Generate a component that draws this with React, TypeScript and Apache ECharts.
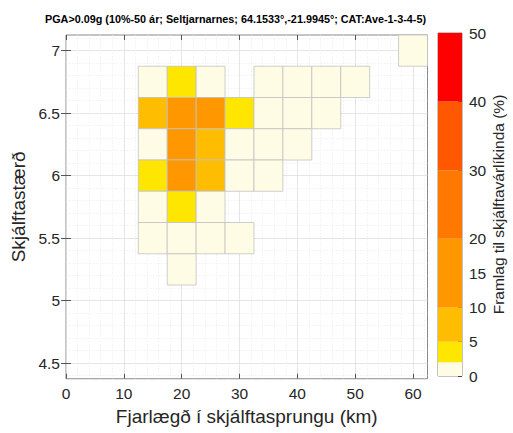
import React, { useEffect, useRef } from "react";
import * as echarts from "echarts";

// ---- data ----
const titleText = "PGA>0.09g (10%-50 ár; Seltjarnarnes; 64.1533°,-21.9945°; CAT:Ave-1-3-4-5)";
const xAxisName = "Fjarlægð í skjálftasprungu (km)";
const yAxisName = "Skjálftastærð";
const colorbarName = "Framlag til skjálftavárlíkinda (%)";

// distance bin centres (km)
const distances = [15, 20, 25, 30, 35, 40, 45, 50, 55, 60];
// magnitude bin centres and contributions (%) per distance bin (null = empty)
const magnitudes = [7.0, 6.75, 6.5, 6.25, 6.0, 5.75, 5.5, 5.25];
const row700 = [null, null, null, null, null, null, null, null, null, 0.5];
const row675 = [1.0, 3.5, 1.2, null, 0.3, 0.4, 0.3, 0.2, null, null];
const row650 = [7.5, 13.0, 12.5, 3.0, 1.0, 0.6, 0.3, null, null, null];
const row625 = [1.5, 14.0, 8.5, 1.2, 0.8, 0.4, null, null, null, null];
const row600 = [4.0, 13.5, 7.0, 1.0, 0.5, null, null, null, null, null];
const row575 = [1.2, 3.2, 1.5, null, null, null, null, null, null, null];
const row550 = [0.6, 1.0, 0.8, 0.3, null, null, null, null, null, null];
const row525 = [null, 0.3, null, null, null, null, null, null, null, null];
const rows = [row700, row675, row650, row625, row600, row575, row550, row525];

const binWidth = 5; // km
const binHeight = 0.25; // magnitude

const xTicks = [0, 10, 20, 30, 40, 50, 60];
const yTicks = [4.5, 5, 5.5, 6, 6.5, 7];

// colour scale
const colorBreaks = [0, 2, 5, 10, 20, 30, 40, 50];
const colorbarTicks = [0, 2, 5, 10, 15, 20, 30, 40, 50];
const colorList = ["#FFFCE6", "#FFE600", "#FFBD00", "#FF9800", "#FF7800", "#FF5800", "#FF0000"];

function colorFor(v: number) {
  for (let i = 0; i < colorBreaks.length - 1; i++) {
    if (v < colorBreaks[i + 1]) return colorList[i];
  }
  return colorList[colorList.length - 1];
}

const FONT = "'Liberation Sans', Arial, Helvetica, sans-serif";

export default function App() {
  const ref = useRef<HTMLDivElement>(null);
  useEffect(() => {
    if (!ref.current) return;
    const chart = echarts.init(ref.current, null, { renderer: "svg" });

    const cells: any[] = [];
    rows.forEach((row, ri) => {
      row.forEach((v, ci) => {
        if (v !== null) cells.push([distances[ci], magnitudes[ri], v]);
      });
    });

    const segments = colorBreaks.slice(1).map((b, i) => b - colorBreaks[i]);

    const option: any = {
      animation: false,
      backgroundColor: "#ffffff",
      textStyle: { fontFamily: FONT },
      title: {
        text: titleText,
        left: 40,
        top: 8,
        textStyle: { fontFamily: FONT, fontSize: 10.8, fontWeight: "bold", color: "#000" },
      },
      grid: [
        {
          left: 66, top: 35, width: 361.5, height: 343.75,
          show: true, borderColor: "#8a8a8a", borderWidth: 1, backgroundColor: "transparent",
          containLabel: false, outerBoundsMode: "none",
        },
        {
          left: 438, top: 33, width: 24, height: 343,
          show: true, borderColor: "#8a8a8a", borderWidth: 1, backgroundColor: "transparent",
          containLabel: false, outerBoundsMode: "none",
        },
      ],
      xAxis: [
        {
          type: "value", gridIndex: 0, min: 0, max: 62.5, interval: 10,
          name: xAxisName, nameLocation: "middle", nameGap: 24,
          nameTextStyle: { fontFamily: FONT, fontSize: 19, color: "#262626" },
          axisLine: { show: false },
          axisTick: { show: true, inside: true, length: 5, customValues: xTicks, lineStyle: { color: "#555" } },
          axisLabel: { customValues: xTicks, margin: 7, fontFamily: FONT, fontSize: 15.5, color: "#262626" },
          splitLine: { show: true, lineStyle: { color: "#dedede", width: 0.8 } },
          minorTick: { show: false, splitNumber: 5 },
          minorSplitLine: { show: true, lineStyle: { color: "#ececec", width: 0.7, type: [1.5, 1.5] } },
        },
        {
          type: "value", gridIndex: 0, min: 0, max: 62.5, interval: 10, position: "top",
          axisLine: { show: false },
          axisTick: { show: true, inside: true, length: 5, customValues: xTicks, lineStyle: { color: "#555" } },
          axisLabel: { show: false },
          splitLine: { show: false },
        },
        {
          type: "category", gridIndex: 1, data: ["cb"], show: false,
        },
      ],
      yAxis: [
        {
          type: "value", gridIndex: 0, min: 4.375, max: 7.125,
          name: yAxisName, nameLocation: "middle", nameGap: 35, nameRotate: 90,
          nameTextStyle: { fontFamily: FONT, fontSize: 19, color: "#262626" },
          axisLine: { show: false },
          axisTick: { show: true, inside: true, length: 5, customValues: yTicks, lineStyle: { color: "#555" } },
          axisLabel: { customValues: yTicks, margin: 6, fontFamily: FONT, fontSize: 15.5, color: "#262626" },
          splitLine: { show: true, lineStyle: { color: "#dedede", width: 0.8 } },
          minorTick: { show: false, splitNumber: 5 },
          minorSplitLine: { show: true, lineStyle: { color: "#ececec", width: 0.7, type: [1.5, 1.5] } },
        },
        {
          type: "value", gridIndex: 0, min: 4.375, max: 7.125, position: "right",
          axisLine: { show: false },
          axisTick: { show: true, inside: true, length: 5, customValues: yTicks, lineStyle: { color: "#555" } },
          axisLabel: { show: false },
          splitLine: { show: false },
        },
        {
          type: "value", gridIndex: 1, min: 0, max: 50, position: "right",
          name: colorbarName, nameLocation: "middle", nameGap: 24, nameRotate: 90,
          nameTextStyle: { fontFamily: FONT, fontSize: 15.5, color: "#262626" },
          axisLine: { show: false },
          axisTick: { show: true, inside: true, length: 4, customValues: colorbarTicks, lineStyle: { color: "#444" } },
          axisLabel: {
            customValues: colorbarTicks, margin: 7, fontFamily: FONT, fontSize: 15.5, color: "#262626",
            showMinLabel: true, showMaxLabel: true, hideOverlap: false,
          },
          splitLine: { show: false },
        },
      ],
      series: [
        {
          type: "custom",
          xAxisIndex: 0,
          yAxisIndex: 0,
          data: cells,
          encode: { x: 0, y: 1 },
          z: 5,
          renderItem: (params: any, api: any) => {
            const x = api.value(0);
            const y = api.value(1);
            const v = api.value(2);
            const p1 = api.coord([x - binWidth / 2, y + binHeight / 2]);
            const p2 = api.coord([x + binWidth / 2, y - binHeight / 2]);
            return {
              type: "rect",
              shape: { x: p1[0], y: p1[1], width: p2[0] - p1[0], height: p2[1] - p1[1] },
              style: { fill: colorFor(v), stroke: "#c2c2c2", lineWidth: 0.8 },
            };
          },
        },
        ...segments.map((s, i) => ({
          type: "bar",
          xAxisIndex: 2,
          yAxisIndex: 2,
          stack: "colorbar",
          barWidth: "100%",
          silent: true,
          data: [s],
          itemStyle: { color: colorList[i] },
        })),
      ],
    };
    chart.setOption(option);
    return () => chart.dispose();
  }, []);
  return (
    <div
      ref={ref}
      style={{ position: "fixed", left: 0, top: 0, width: 513, height: 433 }}
    />
  );
}
